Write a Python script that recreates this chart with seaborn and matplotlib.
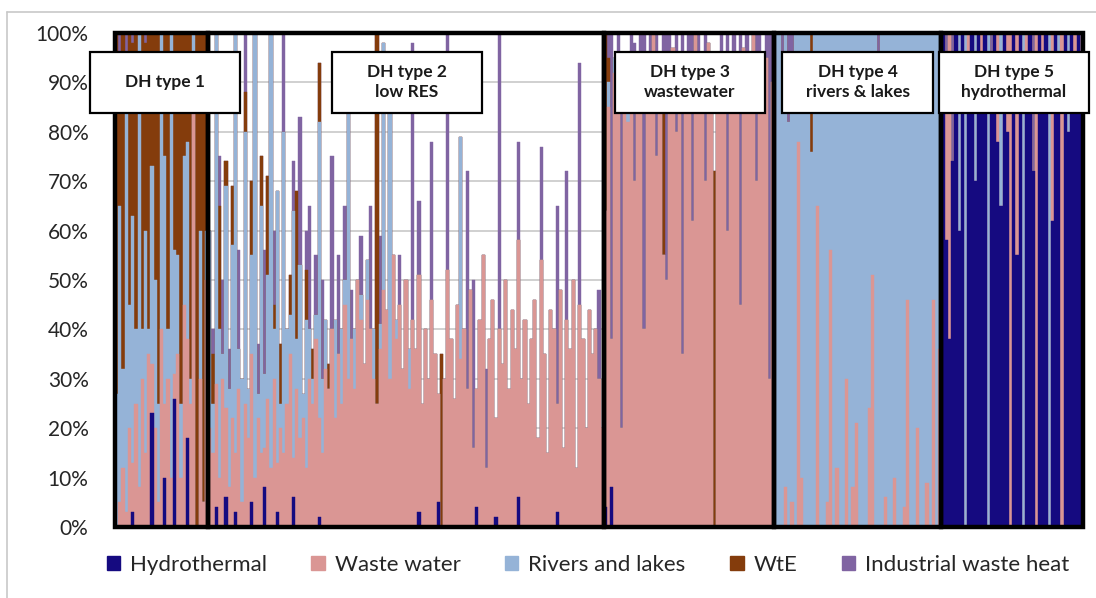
import matplotlib
matplotlib.use("Agg")
import matplotlib.pyplot as plt
from matplotlib.patches import Rectangle, Patch
from matplotlib.lines import Line2D
import pandas as pd
import seaborn as sns

sources = ["Hydrothermal", "Waste water", "Rivers and lakes", "WtE", "Industrial waste heat"]
colors = ["#150A80", "#DA9694", "#95B3D7", "#843C0C", "#8064A2"]
dh_labels = ["DH type 1", "DH type 2\nlow RES", "DH type 3\nwastewater",
             "DH type 4\nrivers & lakes", "DH type 5\nhydrothermal"]

# shares in % of heat supply, one value per network, grouped by DH type
# DH type 1
t1_hydro = [0, 0, 0, 0, 0, 3, 0, 0, 0, 0, 0, 23, 0, 0, 0, 10, 0, 0, 26, 0,
            0, 0, 18, 0, 0, 0, 0, 0, 0]
t1_ww = [0, 5, 12, 3, 20, 10, 25, 8, 30, 15, 35, 10, 20, 5, 40, 15, 30, 10, 5, 35,
         10, 45, 20, 25, 85, 0, 30, 5, 50]
t1_riv = [27, 60, 20, 90, 25, 50, 15, 92, 10, 45, 5, 40, 30, 20, 60, 50, 10, 90, 25, 20,
          15, 30, 40, 5, 15, 0, 30, 0, 10]
t1_wte = [73, 30, 68, 0, 55, 35, 60, 0, 60, 38, 60, 27, 50, 75, 0, 25, 60, 0, 44, 45,
          75, 25, 22, 70, 0, 100, 40, 95, 40]
t1_ind = [0, 5, 0, 7, 0, 2, 0, 0, 0, 2, 0, 0, 0, 0, 0, 0, 0, 0, 0, 0,
          0, 0, 0, 0, 0, 0, 0, 0, 0]

# DH type 2
t2_hydro = [0, 0, 4, 0, 0, 6, 0, 0, 3, 0,
            0, 0, 0, 5, 0, 0, 0, 8, 0, 0,
            0, 3, 0, 0, 0, 0, 6, 0, 0, 0,
            0, 0, 0, 0, 2, 0, 0, 0, 0, 0,
            0, 0, 0, 0, 0, 0, 0, 0, 0, 0,
            0, 0, 0, 0, 0, 0, 0, 0, 0, 0,
            0, 0, 0, 0, 0, 3, 0, 0, 0, 0,
            0, 5, 0, 0, 0, 0, 0, 0, 0, 0,
            0, 0, 0, 4, 0, 0, 0, 0, 0, 2,
            0, 0, 0, 0, 0, 0, 6, 0, 0, 0,
            0, 0, 0, 0, 0, 0, 0, 0, 3, 0,
            0, 0, 0, 0, 0, 0, 0, 0, 0, 0,
            0, 0, 0]
t2_ww = [20, 15, 25, 10, 30, 18, 8, 22, 12, 28,
         5, 25, 18, 30, 10, 22, 15, 8, 26, 12,
         30, 10, 20, 15, 25, 35, 8, 28, 18, 22,
         12, 30, 25, 38, 20, 15, 32, 28, 40, 22,
         35, 25, 45, 30, 38, 28, 50, 42, 33, 46,
         40, 30, 25, 36, 48, 44, 30, 55, 38, 45,
         32, 50, 28, 42, 36, 48, 25, 40, 30, 46,
         35, 22, 0, 30, 52, 38, 26, 45, 34, 40,
         28, 48, 16, 24, 42, 55, 12, 38, 46, 20,
         40, 33, 50, 28, 44, 36, 52, 30, 42, 25,
         38, 46, 18, 54, 35, 15, 44, 40, 22, 48,
         16, 42, 36, 50, 12, 45, 38, 20, 44, 35,
         40, 30, 20]
t2_riv = [40, 10, 71, 30, 5, 45, 20, 35, 85, 8,
          25, 55, 10, 20, 90, 5, 50, 15, 25, 88,
          10, 55, 5, 65, 15, 8, 50, 10, 35, 5,
          30, 10, 5, 5, 60, 15, 10, 0, 0, 20,
          0, 15, 5, 55, 0, 12, 0, 5, 0, 8,
          0, 10, 0, 5, 50, 0, 55, 0, 4, 0,
          0, 0, 8, 0, 0, 0, 0, 0, 0, 0,
          0, 0, 0, 0, 0, 0, 0, 0, 45, 0,
          0, 0, 0, 0, 0, 0, 0, 0, 0, 0,
          0, 0, 0, 0, 0, 0, 0, 0, 0, 0,
          0, 0, 0, 0, 0, 0, 0, 0, 0, 0,
          0, 0, 0, 0, 0, 0, 0, 0, 0, 0,
          0, 0, 0]
t2_wte = [0, 10, 0, 25, 0, 5, 0, 12, 0, 0,
          0, 8, 0, 15, 0, 0, 10, 0, 20, 0,
          5, 0, 12, 0, 0, 8, 0, 30, 0, 0,
          10, 0, 6, 0, 12, 0, 0, 5, 0, 0,
          0, 0, 0, 8, 0, 0, 0, 0, 0, 0,
          0, 0, 75, 0, 0, 0, 0, 0, 0, 0,
          0, 0, 0, 0, 0, 0, 0, 0, 0, 0,
          0, 0, 35, 0, 0, 0, 0, 0, 0, 0,
          0, 0, 0, 0, 0, 0, 0, 0, 0, 0,
          0, 0, 0, 0, 0, 0, 0, 0, 0, 0,
          0, 0, 0, 0, 0, 0, 0, 0, 0, 0,
          0, 0, 0, 0, 0, 0, 0, 0, 0, 0,
          0, 0, 0]
t2_ind = [0, 5, 0, 10, 15, 0, 8, 0, 0, 20,
          0, 12, 0, 0, 0, 10, 0, 25, 0, 0,
          15, 0, 0, 20, 0, 0, 10, 0, 30, 0,
          8, 25, 0, 12, 0, 20, 0, 0, 35, 0,
          20, 0, 15, 0, 10, 0, 0, 12, 0, 0,
          25, 0, 0, 18, 0, 0, 0, 0, 0, 10,
          0, 0, 0, 56, 0, 15, 0, 0, 0, 32,
          0, 0, 0, 0, 48, 0, 0, 0, 0, 0,
          44, 0, 34, 0, 0, 0, 20, 0, 0, 0,
          60, 0, 0, 0, 0, 0, 20, 0, 0, 0,
          0, 0, 0, 23, 0, 0, 0, 0, 40, 0,
          0, 30, 0, 0, 0, 49, 0, 0, 0, 0,
          0, 18, 0]

# DH type 3
t3_hydro = [4, 0, 8, 0, 0, 0, 0, 0, 0, 0,
            0, 0, 0, 0, 0, 0, 0, 0, 0, 0,
            0, 0, 0, 0, 0, 0, 0, 0, 0, 0,
            0, 0, 0, 0, 0, 0, 0, 0, 0, 0,
            0, 0, 0, 0, 0, 0, 0, 0, 0, 0,
            0, 0, 0]
t3_ww = [60, 85, 30, 92, 88, 20, 95, 82, 90, 70,
         96, 85, 40, 93, 88, 100, 75, 92, 55, 50,
         90, 97, 80, 88, 35, 95, 90, 62, 100, 85,
         93, 70, 98, 88, 0, 95, 90, 85, 60, 96,
         88, 92, 45, 97, 85, 90, 100, 70, 93, 88,
         95, 30, 90]
t3_riv = [0, 5, 0, 3, 0, 0, 0, 5, 0, 0,
          0, 0, 0, 0, 0, 0, 0, 0, 0, 0,
          0, 0, 0, 0, 0, 0, 0, 0, 0, 0,
          0, 0, 0, 0, 0, 0, 0, 0, 0, 0,
          0, 0, 0, 0, 0, 0, 0, 0, 0, 0,
          0, 0, 0]
t3_wte = [36, 5, 0, 0, 0, 0, 0, 8, 0, 0,
          0, 0, 0, 0, 0, 0, 0, 0, 37, 0,
          0, 0, 0, 0, 0, 0, 0, 0, 0, 0,
          0, 0, 0, 0, 72, 0, 0, 0, 0, 0,
          0, 0, 0, 0, 0, 0, 0, 0, 0, 0,
          0, 0, 0]
t3_ind = [0, 5, 62, 0, 12, 75, 0, 0, 10, 28,
          0, 15, 60, 0, 12, 0, 25, 0, 8, 50,
          10, 0, 20, 0, 65, 0, 10, 38, 0, 15,
          0, 30, 0, 0, 0, 0, 10, 0, 40, 0,
          12, 0, 55, 0, 15, 0, 0, 30, 7, 0,
          5, 70, 10]

# DH type 4
t4_hydro = [0, 0, 0, 0, 0, 0, 0, 0, 0, 0,
            0, 0, 0, 0, 0, 0, 0, 0, 0, 0,
            0, 0, 0, 0, 0, 0, 0, 0, 0, 0,
            0, 0, 0, 0, 0, 0, 0, 0, 0, 0,
            0, 0, 0, 0, 0, 0, 0, 0, 0, 0,
            0, 0]
t4_ww = [0, 0, 0, 8, 0, 5, 0, 78, 10, 0,
         0, 0, 0, 65, 0, 0, 5, 56, 0, 12,
         0, 0, 30, 0, 8, 21, 0, 0, 0, 24,
         51, 0, 0, 0, 6, 0, 0, 10, 0, 0,
         4, 46, 0, 0, 20, 0, 0, 9, 0, 46,
         0, 36]
t4_riv = [100, 100, 96, 92, 82, 88, 100, 22, 90, 100,
          100, 76, 100, 35, 100, 100, 95, 44, 100, 88,
          100, 100, 70, 100, 92, 79, 100, 100, 100, 76,
          49, 100, 93, 100, 94, 100, 100, 90, 100, 100,
          96, 54, 100, 100, 80, 100, 100, 91, 100, 54,
          100, 64]
t4_wte = [0, 0, 0, 0, 0, 0, 0, 0, 0, 0,
          0, 24, 0, 0, 0, 0, 0, 0, 0, 0,
          0, 0, 0, 0, 0, 0, 0, 0, 0, 0,
          0, 0, 0, 0, 0, 0, 0, 0, 0, 0,
          0, 0, 0, 0, 0, 0, 0, 0, 0, 0,
          0, 0]
t4_ind = [0, 0, 4, 0, 18, 7, 0, 0, 0, 0,
          0, 0, 0, 0, 0, 0, 0, 0, 0, 0,
          0, 0, 0, 0, 0, 0, 0, 0, 0, 0,
          0, 0, 7, 0, 0, 0, 0, 0, 0, 0,
          0, 0, 0, 0, 0, 0, 0, 0, 0, 0,
          0, 0]

# DH type 5
t5_hydro = [100, 58, 38, 74, 100, 60, 100, 0, 88, 100,
            70, 100, 85, 100, 0, 92, 100, 78, 65, 100,
            80, 0, 100, 55, 100, 0, 90, 100, 72, 0,
            100, 84, 100, 0, 62, 100, 88, 0, 100, 80,
            100, 92, 100, 95]
t5_ww = [0, 30, 62, 0, 0, 0, 0, 0, 12, 0,
         0, 0, 15, 0, 0, 0, 0, 22, 0, 0,
         20, 100, 0, 45, 0, 0, 10, 0, 0, 100,
         0, 16, 0, 0, 38, 0, 0, 100, 0, 0,
         0, 8, 0, 0]
t5_riv = [0, 0, 0, 0, 0, 40, 0, 100, 0, 0,
          30, 0, 0, 0, 100, 0, 0, 0, 35, 0,
          0, 0, 0, 0, 0, 100, 0, 0, 0, 0,
          0, 0, 0, 100, 0, 0, 12, 0, 0, 20,
          0, 0, 0, 0]
t5_wte = [0, 0, 0, 0, 0, 0, 0, 0, 0, 0,
          0, 0, 0, 0, 0, 0, 0, 0, 0, 0,
          0, 0, 0, 0, 0, 0, 0, 0, 0, 0,
          0, 0, 0, 0, 0, 0, 0, 0, 0, 0,
          0, 0, 0, 0]
t5_ind = [0, 12, 0, 26, 0, 0, 0, 0, 0, 0,
          0, 0, 0, 0, 0, 8, 0, 0, 0, 0,
          0, 0, 0, 0, 0, 0, 0, 0, 28, 0,
          0, 0, 0, 0, 0, 0, 0, 0, 0, 0,
          0, 0, 0, 5]

groups = [
    (t1_hydro, t1_ww, t1_riv, t1_wte, t1_ind),
    (t2_hydro, t2_ww, t2_riv, t2_wte, t2_ind),
    (t3_hydro, t3_ww, t3_riv, t3_wte, t3_ind),
    (t4_hydro, t4_ww, t4_riv, t4_wte, t4_ind),
    (t5_hydro, t5_ww, t5_riv, t5_wte, t5_ind),
]

frames = []
for k, g in enumerate(groups):
    d = pd.DataFrame(dict(zip(sources, g)))
    d["dh_type"] = k + 1
    frames.append(d)
df = pd.concat(frames, ignore_index=True)
df["bar"] = range(len(df))
seg_sizes = df.groupby("dh_type").size().tolist()

# cumulative tops for stacking
cum = df[sources].cumsum(axis=1)

W, H = 1096, 598
sns.set_style("white")
plt.rcParams["font.family"] = ["Lato", "DejaVu Sans"]

fig = plt.figure(figsize=(W / 100, H / 100), dpi=100)
ax = fig.add_axes([115 / W, 1 - 527 / H, (1083 - 115) / W, (527 - 33) / H])

for i in reversed(range(len(sources))):
    sns.barplot(x=df["bar"], y=cum[sources[i]], color=colors[i], saturation=1,
                width=1, errorbar=None, edgecolor=colors[i], linewidth=0.3, ax=ax)

ax.set_ylim(0, 100)
ax.set_xlim(-0.5, len(df) - 0.5)
ax.set_yticks(range(0, 101, 10))
ax.set_yticklabels([f"{v}%" for v in range(0, 101, 10)])
ax.set_xticks([])
ax.set_xlabel("")
ax.set_ylabel("")
ax.yaxis.grid(True, color="#C8C8C8", lw=1.2)
ax.set_axisbelow(True)
for s in ax.spines.values():
    s.set_visible(False)
ax.tick_params(axis="y", length=0, pad=19, labelsize=15, labelcolor="#262626")

# black frames around each DH type
start = 0
for n in seg_sizes:
    ax.add_patch(Rectangle((start - 0.5, 0), n, 100, fill=False, edgecolor="black",
                           lw=3.2, zorder=10, clip_on=False))
    start += n

# label boxes
box_px = [(90, 240), (332, 482), (615, 765), (782, 933), (939, 1089)]
for (x0, x1), lab in zip(box_px, dh_labels):
    fig.add_artist(Rectangle((x0 / W, 1 - 113 / H), (x1 - x0) / W, 61 / H,
                             transform=fig.transFigure, facecolor="white",
                             edgecolor="black", lw=1.6, zorder=20))
    fig.text((x0 + x1) / 2 / W, 1 - 82 / H, lab, ha="center", va="center",
             fontsize=12.5, fontweight="bold", color="#1a1a1a", linespacing=1.35,
             zorder=21)

# outer light frame
fig.add_artist(Line2D([7 / W, 1], [1 - 12 / H, 1 - 12 / H], transform=fig.transFigure,
                      color="#C8C8C8", lw=1.2))
fig.add_artist(Line2D([7 / W, 7 / W], [0, 1 - 12 / H], transform=fig.transFigure,
                      color="#C8C8C8", lw=1.2))

handles = [Patch(facecolor=c, edgecolor=c) for c in colors]
fig.legend(handles, sources, loc="center", bbox_to_anchor=(588 / W, 1 - 565 / H),
           ncol=5, frameon=False, fontsize=16, handlelength=0.6, handleheight=0.6,
           handletextpad=0.45, columnspacing=2.0, labelcolor="#262626")

fig.savefig("out.png", dpi=100, facecolor="white")
